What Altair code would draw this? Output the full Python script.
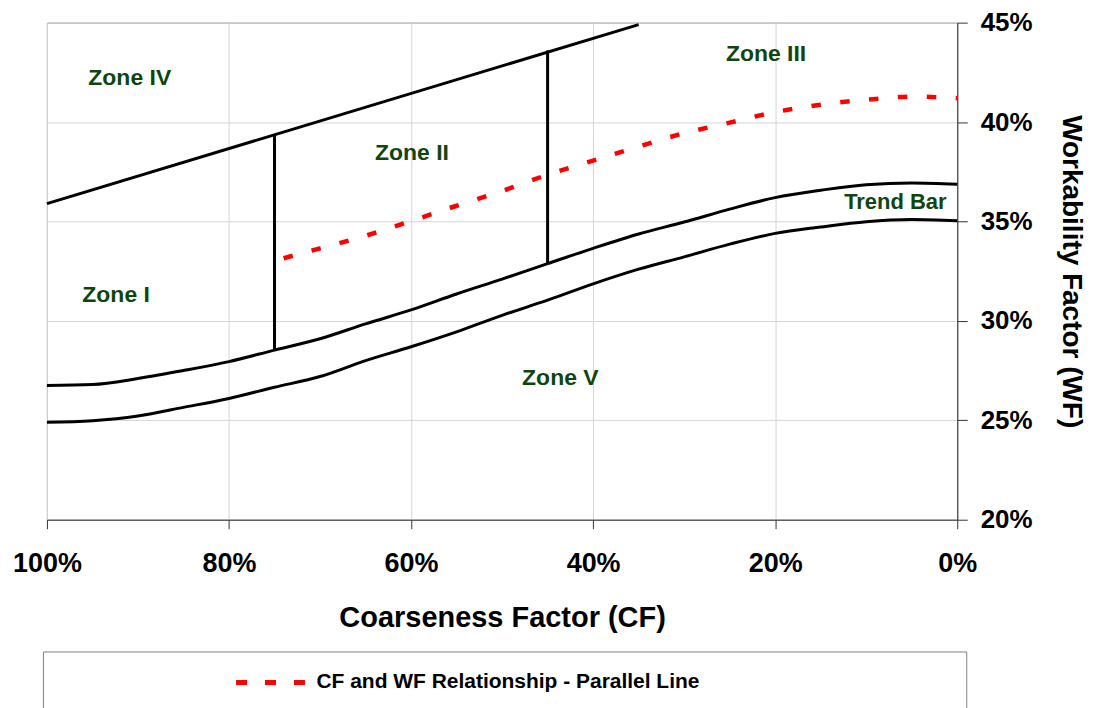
import altair as alt
import pandas as pd

FONT = "Liberation Sans"
GREEN = "#0f460f"

# ---- data ----
x_ticks = [0, 20, 40, 60, 80, 100]
y_ticks = [20, 25, 30, 35, 40, 45]

cf_trend = [100, 95, 90, 85, 80, 75, 70, 65, 60, 55, 50, 45, 40, 35, 30, 25, 20, 15, 10, 5, 0]
wf_trend_upper = [26.75, 26.8, 27.1, 27.5, 27.95, 28.53, 29.1, 29.85, 30.55, 31.35, 32.1,
                  32.88, 33.65, 34.37, 34.97, 35.62, 36.2, 36.57, 36.85, 36.93, 36.87]
wf_trend_lower = [24.9, 24.98, 25.22, 25.65, 26.1, 26.66, 27.2, 28.0, 28.7, 29.45, 30.28,
                  31.04, 31.86, 32.6, 33.22, 33.86, 34.4, 34.72, 34.99, 35.1, 35.03]

cf_boundary = [100, 35]
wf_boundary = [35.9, 44.9]

cf_div75 = [75, 75]
wf_div75 = [39.4, 28.53]
cf_div45 = [45, 45]
wf_div45 = [43.6, 32.88]

cf_parallel = [74, 70, 65, 60, 55, 50, 45, 40, 35, 30, 25, 20, 15, 10, 5, 0]
wf_parallel = [33.15, 33.65, 34.28, 35.02, 35.79, 36.53, 37.35, 38.06, 38.77, 39.44,
               39.97, 40.5, 40.87, 41.12, 41.28, 41.2]
parallel_name = "CF and WF Relationship - Parallel Line"

zone_text = ["Zone IV", "Zone II", "Zone III", "Zone I", "Zone V", "Trend Bar"]
zone_cf = [90.9, 59.9, 21.0, 92.4, 43.6, 6.8]
zone_wf = [42.2, 38.42, 43.4, 31.3, 27.15, 35.96]
zone_size = [23, 23, 23, 23, 23, 22]

# ---- tables ----
def seg(name, xs, ys):
    return pd.DataFrame({"cf": xs, "wf": ys, "line": name, "idx": range(len(xs))})

curve_df = pd.concat([
    seg("trend_upper", cf_trend, wf_trend_upper),
    seg("trend_lower", cf_trend, wf_trend_lower),
], ignore_index=True)

straight_df = pd.concat([
    seg("boundary", cf_boundary, wf_boundary),
    seg("div75", cf_div75, wf_div75),
    seg("div45", cf_div45, wf_div45),
], ignore_index=True)

red_df = pd.DataFrame({"cf": cf_parallel, "wf": wf_parallel, "series": parallel_name,
                       "idx": range(len(cf_parallel))})
text_df = pd.DataFrame({"cf": zone_cf, "wf": zone_wf, "label": zone_text, "fs": zone_size})

x_enc = alt.X("cf:Q",
              scale=alt.Scale(domain=[0, 100], reverse=True, nice=False, zero=False),
              axis=alt.Axis(values=x_ticks, labelExpr="datum.value + '%'",
                            title="Coarseness Factor (CF)", orient="bottom",
                            labelFont=FONT, labelFontSize=27, labelFontWeight="bold",
                            labelColor="black", labelPadding=22, labelFlush=False,
                            labelOverlap=False,
                            titleFont=FONT, titleFontSize=29, titleFontWeight="bold",
                            titleColor="black", titlePadding=27,
                            tickSize=9, tickColor="#333333", domainColor="#333333",
                            grid=True, gridColor="#d4d4d4"))
y_enc = alt.Y("wf:Q",
              scale=alt.Scale(domain=[20, 45], nice=False, zero=False),
              axis=alt.Axis(values=y_ticks, labelExpr="datum.value + '%'",
                            title="Workability Factor (WF)", orient="right",
                            labelFont=FONT, labelFontSize=26, labelFontWeight="bold",
                            labelColor="black", labelPadding=13, labelAlign="left",
                            labelFlush=False, labelOverlap=False,
                            titleFont=FONT, titleFontSize=28, titleFontWeight="bold",
                            titleColor="black", titlePadding=24, titleAngle=90,
                            tickSize=10, tickColor="#333333", domainColor="#333333",
                            grid=True, gridColor="#d4d4d4"))

curves = alt.Chart(curve_df).mark_line(color="black", strokeWidth=3,
                                       interpolate="monotone").encode(
    x=x_enc, y=y_enc, detail="line:N", order="idx:Q")

straight = alt.Chart(straight_df).mark_line(color="black", strokeWidth=3).encode(
    x=x_enc, y=y_enc, detail="line:N", order="idx:Q")

red = alt.Chart(red_df).mark_line(strokeWidth=4.5, strokeDash=[9.5, 19.5],
                                  interpolate="monotone").encode(
    x=x_enc, y=y_enc, order="idx:Q",
    color=alt.Color("series:N",
                    scale=alt.Scale(domain=[parallel_name], range=["#ff0000"]),
                    legend=alt.Legend(title=".", titleOrient="right", titleColor="white",
                                      titleFontSize=21, titlePadding=241,
                                      orient="none", legendX=-4, legendY=630,
                                      padding=20, strokeColor="#808080", fillColor="white",
                                      symbolType="stroke", symbolSize=4900,
                                      symbolStrokeWidth=5, symbolDash=[11, 18],
                                      symbolOffset=171, labelOffset=8, clipHeight=22,
                                      labelFont=FONT, labelFontSize=21,
                                      labelFontWeight="bold", labelColor="black",
                                      labelLimit=3000)))

texts = alt.Chart(text_df).mark_text(font=FONT, fontWeight="bold", color=GREEN,
                                     align="center", baseline="middle").encode(
    x=x_enc, y=y_enc, text="label:N", size=alt.Size("fs:Q", scale=None))

chart = alt.layer(curves, straight, red, texts).properties(
    width=912, height=498,
    padding={"left": 4, "top": 1, "right": 0, "bottom": 0},
    background="white",
).configure_view(stroke="#808080", strokeWidth=1)

chart.save("out.html", embed_options={"renderer": "svg", "actions": False})
